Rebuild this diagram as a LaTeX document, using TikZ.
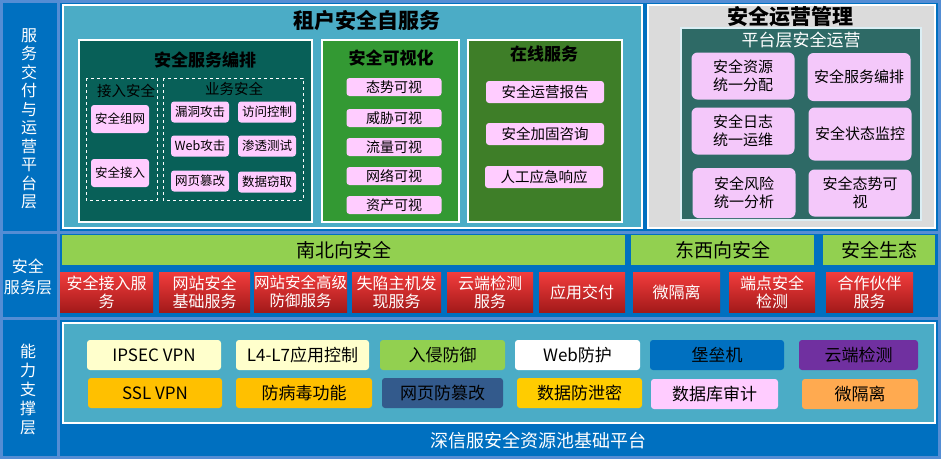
\documentclass[tikz,border=0pt]{standalone}
\usepackage{fontspec}
\setmainfont{Noto Sans CJK SC}
\definecolor{bgblue}{RGB}{0,112,192}
\definecolor{lineblue}{RGB}{84,141,212}
\definecolor{skyblue}{RGB}{75,172,198}
\definecolor{lteal}{RGB}{8,96,88}
\definecolor{rteal}{RGB}{46,106,102}
\definecolor{visgreen}{RGB}{51,153,51}
\definecolor{olgreen}{RGB}{62,126,40}
\definecolor{bargreen}{RGB}{146,208,80}
\definecolor{lpink}{RGB}{255,204,255}
\definecolor{rpink}{RGB}{244,200,250}
\definecolor{cream}{RGB}{255,255,204}
\definecolor{amber}{RGB}{255,192,0}
\definecolor{gold}{RGB}{255,204,0}
\definecolor{navy}{RGB}{51,90,140}
\definecolor{violet}{RGB}{112,48,160}
\definecolor{peach}{RGB}{255,170,80}
\begin{document}
\begin{tikzpicture}[x=1pt,y=-1pt,
    panel/.style={draw=white,line width=2},
    pinkbox/.style={fill=lpink,rounded corners=3,inner sep=0,font=\fontsize{12.5}{14}\selectfont},
    redbox/.style={top color=red!75!white!95!black,bottom color=red!60!black!90,draw=none,inner sep=0,
                   text=white,align=center,font=\fontsize{16}{18}\selectfont},
    capbox/.style={rounded corners=3,inner sep=0,font=\fontsize{17}{19}\selectfont,minimum height=30},
    ttl/.style={font=\bfseries\fontsize{17}{19}\selectfont}]
\useasboundingbox (0,0) rectangle (941,459);
\fill[bgblue] (0,0) rectangle (941,459);
\draw[lineblue,line width=3] (1.5,1.5) rectangle (939.5,457.5);
\draw[lineblue,line width=3] (58,0) -- (58,459) (0,232) -- (941,232) (0,318) -- (941,318);

% left labels
\begin{scope}[every node/.style={text=white,align=center}]
    \node (SL1) [font=\fontsize{16}{18.5}\selectfont] at (29,119) {服\\务\\交\\付\\与\\运\\营\\平\\台\\层};
    \node (SL2) [font=\fontsize{16}{21}\selectfont] at (28,277) {安全\\服务层};
    \node (SL3) [font=\fontsize{16}{19}\selectfont] at (28,389) {能\\力\\支\\撑\\层};
\end{scope}

% top row
\filldraw[panel,fill=skyblue] (63,5) rectangle (642,228);
\node (T0) [ttl,font=\bfseries\fontsize{21}{23}\selectfont] at (367,21) {租户安全自服务};
\filldraw[panel,fill=lteal] (79,40) rectangle (312,222);
\node (T1) [ttl] at (205,60) {安全服务编排};
\draw[white,dashed] (86,78) rectangle (157,200) (163,78) rectangle (303,200);
\node (JR) [font=\fontsize{14.5}{16}\selectfont] at (126,91) {接入安全};
\node (YW) [font=\fontsize{14.5}{16}\selectfont] at (234,89) {业务安全};
\begin{scope}[every node/.style={pinkbox,minimum width=58,minimum height=21}]
    \node (ZW) [minimum height=28] at (120,119) {安全组网};
    \node (JRU) [minimum height=28] at (120,173) {安全接入};
    \node (LD) at (200,112) {漏洞攻击};
    \node (FW) at (267,112) {访问控制};
    \node (WG) at (200,146) {Web攻击};
    \node (ST) at (267,146) {渗透测试};
    \node (CG) at (200,181) {网页篡改};
    \node (QQ) at (267,182) {数据窃取};
\end{scope}

\filldraw[panel,fill=visgreen] (322,40) rectangle (459,222);
\node (T2) [ttl] at (391,58) {安全可视化};
\begin{scope}[every node/.style={pinkbox,minimum width=95,minimum height=18,font=\fontsize{14}{15}\selectfont}]
    \node (V1) at (394,87) {态势可视};
    \node (V2) at (394,118) {威胁可视};
    \node (V3) at (394,147) {流量可视};
    \node (V4) at (394,176) {网络可视};
    \node (V5) at (394,205) {资产可视};
\end{scope}

\filldraw[panel,fill=olgreen] (468,40) rectangle (622,222);
\node (T3) [ttl] at (544,54) {在线服务};
\begin{scope}[every node/.style={pinkbox,minimum width=118,minimum height=22,font=\fontsize{14.5}{16}\selectfont}]
    \node (OS1) at (545,92) {安全运营报告};
    \node (OS2) at (545,134) {安全加固咨询};
    \node (OS3) at (544,177) {人工应急响应};
\end{scope}

\filldraw[panel,fill=black!14] (648,5) rectangle (935,228);
\node (T4) [ttl,font=\bfseries\fontsize{21}{23}\selectfont] at (790,17) {安全运营管理};
\filldraw[draw=white!80!skyblue,line width=1.5,fill=rteal] (681,28) rectangle (921,220);
\node (T5) [text=white,font=\fontsize{17}{19}\selectfont] at (801,40) {平台层安全运营};
\begin{scope}[every node/.style={pinkbox,fill=rpink,rounded corners=6,align=center,minimum width=103,
                                 font=\fontsize{15}{18}\selectfont}]
    \node (M1) [minimum height=47] at (743,76) {安全资源\\统一分配};
    \node (M2) [minimum height=48] at (859,77) {安全服务编排};
    \node (M3) [minimum height=47] at (743,131) {安全日志\\统一运维};
    \node (M4) [minimum height=53] at (860,134) {安全状态监控};
    \node (M5) [minimum height=50] at (744,193) {安全风险\\统一分析};
    \node (M6) [minimum height=47] at (860,193) {安全态势可\\视};
\end{scope}

% middle row
\begin{scope}[every node/.style={fill=bargreen,inner sep=0,minimum height=30,font=\fontsize{19}{21}\selectfont}]
    \node (NB) [minimum width=563] at (343.5,250) {南北向安全};
    \node (DX) [minimum width=183] at (722.5,250) {东西向安全};
    \node (ST) [minimum width=112] at (879,250) {安全生态};
\end{scope}
\begin{scope}[every node/.style={redbox,minimum height=40}]
    \node (R1) [minimum width=93] at (106.5,292) {安全接入服\\务};
    \node (R2) [minimum width=91] at (204.5,292) {网站安全\\基础服务};
    \node (R3) [minimum width=89,font=\fontsize{15.5}{18}\selectfont] at (300.5,292) {网站安全高级\\防御服务};
    \node (R4) [minimum width=89] at (396.5,292) {失陷主机发\\现服务};
    \node (R5) [minimum width=86] at (490,292) {云端检测\\服务};
    \node (R6) [minimum width=86] at (582,292) {应用交付};
    \node (R7) [minimum width=87] at (676.5,292) {微隔离};
    \node (R8) [minimum width=86] at (772,292) {端点安全\\检测};
    \node (R9) [minimum width=87] at (869.5,292) {合作伙伴\\服务};
\end{scope}

% bottom row
\filldraw[panel,fill=skyblue] (63,323) rectangle (935,423);
\begin{scope}[every node/.style={capbox}]
    \node (C1) [fill=cream,minimum width=134] at (154,355) {IPSEC VPN};
    \node (C2) [fill=amber,minimum width=134] at (155,393) {SSL VPN};
    \node (C3) [fill=cream,minimum width=133] at (302.5,355) {L4-L7应用控制};
    \node (C4) [fill=amber,minimum width=136] at (304,393) {防病毒功能};
    \node (C5) [fill=bargreen,minimum width=125] at (442.5,355) {入侵防御};
    \node (C6) [fill=navy,minimum width=121] at (442.5,393) {网页防篡改};
    \node (C7) [fill=white,minimum width=125] at (577.5,355) {Web防护};
    \node (C8) [fill=gold,minimum width=125] at (579.5,393) {数据防泄密};
    \node (C9) [fill=bgblue,minimum width=134] at (717,355) {堡垒机};
    \node (C10) [fill=lpink,minimum width=127] at (714.5,394) {数据库审计};
    \node (C11) [fill=violet,minimum width=119] at (858.5,355) {云端检测};
    \node (C12) [fill=peach,minimum width=116] at (860,394) {微隔离};
\end{scope}
\node (BASE) [text=white,font=\fontsize{18}{20}\selectfont] at (538,441) {深信服安全资源池基础平台};
\end{tikzpicture}
\end{document}
